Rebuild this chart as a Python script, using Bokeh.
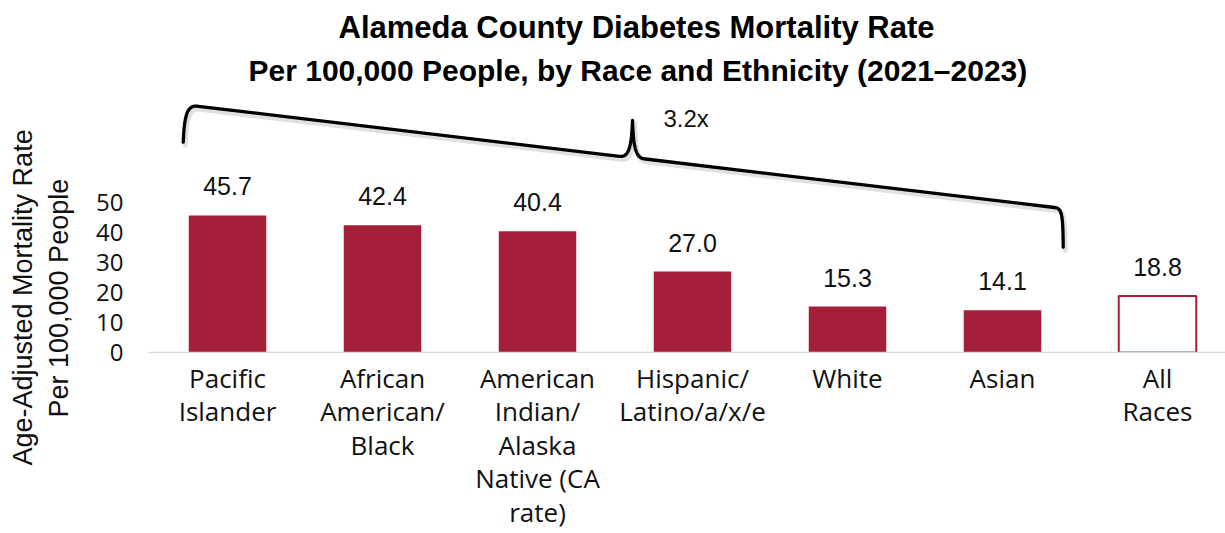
import numpy as np
from bokeh.plotting import figure
from bokeh.models import Range1d, FixedTicker, Label, ColumnDataSource, Title
from bokeh.core.properties import value
from bokeh.embed import file_html
from bokeh.resources import INLINE

# ---- data -------------------------------------------------------------
groups = [
    "Pacific\nIslander",
    "African\nAmerican/\nBlack",
    "American\nIndian/\nAlaska\nNative (CA\nrate)",
    "Hispanic/\nLatino/a/x/e",
    "White",
    "Asian",
    "All\nRaces",
]
rates = [45.7, 42.4, 40.4, 27.0, 15.3, 14.1, 18.8]
y_ticks = [0, 10, 20, 30, 40, 50]
title_lines = [
    "Alameda County Diabetes Mortality Rate",
    "Per 100,000 People, by Race and Ethnicity (2021\u20132023)",
]
y_label_lines = ["Age-Adjusted Mortality Rate", "Per 100,000 People"]

# ---- layout constants (canvas pixels) ----------------------------------
W, H = 1225, 533
FRAME_L, FRAME_R, FRAME_T, FRAME_B = 148, 1225, 92, 352
X0_PX = 227          # canvas x of the first category centre
PX_PER_X = 155       # spacing between categories
PX_PER_Y = 3.0       # pixels per unit of rate

RED = "#A61F3A"
TEXT = "#111111"
SANS = "Open Sans"
ARIAL = "Liberation Sans"


def dx(px):
    """canvas x pixel -> data x"""
    return (px - X0_PX) / PX_PER_X


def dy(py):
    """canvas y pixel -> data y"""
    return (FRAME_B - py) / PX_PER_Y


p = figure(
    width=W, height=H,
    x_range=Range1d(dx(FRAME_L), dx(FRAME_R)),
    y_range=Range1d(0, dy(FRAME_T)),
    output_backend="svg", toolbar_location=None,
    min_border_left=FRAME_L, min_border_right=W - FRAME_R,
    min_border_top=FRAME_T, min_border_bottom=H - FRAME_B,
)
p.title = None
p.outline_line_color = None
p.xgrid.visible = False
p.ygrid.visible = False
p.background_fill_color = "white"
p.border_fill_color = "white"

xs = list(range(len(groups)))
n_sub = len(groups) - 1

# group bars
src_groups = ColumnDataSource(dict(x=xs[:n_sub], rate=rates[:n_sub]))
p.vbar(x="x", top="rate", width=0.5, source=src_groups,
       fill_color=RED, line_color=None)

# overall bar (outlined)
src_all = ColumnDataSource(dict(x=xs[n_sub:], rate=rates[n_sub:]))
p.vbar(x="x", top="rate", width=0.5, source=src_all,
       fill_color="white", line_color=RED, line_width=2)

# value labels
src_lbl = ColumnDataSource(dict(x=xs, y=rates, t=[f"{v:.1f}" for v in rates]))
p.text(x="x", y="y", text="t", source=src_lbl, y_offset=-29,
       text_align="center", text_baseline="alphabetic",
       text_font=value(ARIAL), text_font_size="25px",
       text_color=TEXT)

# ---- axes ---------------------------------------------------------------
xa = p.xaxis[0]
xa.ticker = FixedTicker(ticks=xs)
xa.major_label_overrides = {i: g for i, g in zip(xs, groups)}
xa.axis_line_color = "#D9D9D9"
xa.axis_line_width = 1.5
xa.major_tick_line_color = None
xa.minor_tick_line_color = None
xa.major_tick_out = 0
xa.major_label_standoff = 7
xa.major_label_text_font = SANS
xa.major_label_text_font_size = "26px"
xa.major_label_text_color = TEXT
xa.major_label_text_line_height = 0.935

ya = p.yaxis[0]
ya.ticker = FixedTicker(ticks=y_ticks)
ya.axis_line_color = None
ya.major_tick_line_color = None
ya.minor_tick_line_color = None
ya.major_tick_out = 0
ya.major_label_standoff = 25
ya.major_label_text_font = SANS
ya.major_label_text_font_size = "24px"
ya.major_label_text_color = TEXT


# ---- bracket spanning the highest and lowest group rates ------------------
def cubic(p0, c0, c1, p1, n=24):
    t = np.linspace(0, 1, n)[:, None]
    pts = ((1 - t) ** 3) * np.array(p0) + 3 * ((1 - t) ** 2) * t * np.array(c0) \
        + 3 * (1 - t) * t ** 2 * np.array(c1) + t ** 3 * np.array(p1)
    return pts


pieces = [
    cubic((182.7, 141.7), (184, 113), (187, 104), (198, 105.8)),
    cubic((619, 155.8), (627, 156.8), (631, 150), (632, 120)),
    cubic((632, 120), (633, 150), (636, 158), (645, 158.5)),
    cubic((1054, 207), (1061, 207.8), (1062.5, 212), (1062.7, 246.7)),
]
path = np.vstack(pieces)
bx = [dx(u) for u in path[:, 0]]
by = [dy(v) for v in path[:, 1]]
shadow_x = [dx(u + 2) for u in path[:, 0]]
shadow_y = [dy(v + 3) for v in path[:, 1]]

p.line(shadow_x, shadow_y, line_color="black", line_alpha=0.12,
       line_width=5, line_join="round", line_cap="round")
p.line(bx, by, line_color="black", line_width=3.3,
       line_join="round", line_cap="round")

ratio = rates[0] / rates[5]
p.add_layout(Label(x=dx(663), y=dy(118), text=f"{ratio:.1f}x",
                   text_align="left", text_baseline="middle",
                   text_font=ARIAL, text_font_size="24px",
                   text_color=TEXT))

# ---- chart title (two lines, inner line added first) ------------------------
for txt, off, size, gap in ((title_lines[1], 100, "30px", 11),
                            (title_lines[0], 190, "31px", 4)):
    p.add_layout(Title(text=txt, align="left", offset=off, standoff=gap,
                       text_font=ARIAL, text_font_style="bold",
                       text_font_size=size, text_color="black"), "above")

# ---- y axis title (two lines, inner line added first) -----------------------
for txt, off, gap in ((y_label_lines[1], -65, 40), (y_label_lines[0], -113, -32)):
    p.add_layout(Title(text=txt, align="left", offset=off, standoff=gap,
                       text_font=ARIAL, text_font_style="normal",
                       text_font_size="27px", text_color=TEXT), "left")

open("out.html", "w").write(file_html(p, INLINE))
